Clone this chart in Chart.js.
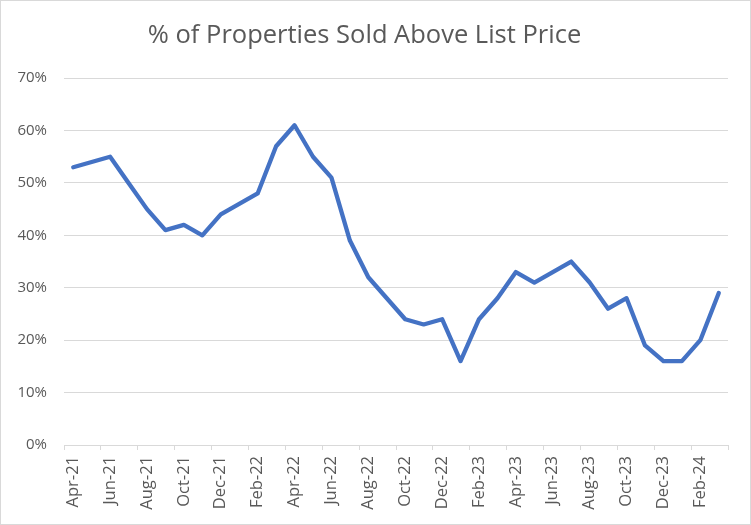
<!DOCTYPE html>
<html>
<head>
<meta charset="utf-8">
<script src="https://cdn.jsdelivr.net/npm/chart.js@4/dist/chart.umd.min.js"></script>
<style>
  html, body { margin: 0; padding: 0; background: #fff; }
  #wrap { width: 751px; height: 525px; box-sizing: border-box; border: 1px solid #d9d9d9; }
</style>
</head>
<body>
<div id="wrap"><canvas id="myChart" width="749" height="523"></canvas></div>
<script>
// monthly labels, Apr-21 .. Mar-24
const months = [
  "Apr-21", "May-21", "Jun-21", "Jul-21", "Aug-21", "Sep-21", "Oct-21", "Nov-21", "Dec-21",
  "Jan-22", "Feb-22", "Mar-22", "Apr-22", "May-22", "Jun-22", "Jul-22", "Aug-22", "Sep-22",
  "Oct-22", "Nov-22", "Dec-22", "Jan-23", "Feb-23", "Mar-23", "Apr-23", "May-23", "Jun-23",
  "Jul-23", "Aug-23", "Sep-23", "Oct-23", "Nov-23", "Dec-23", "Jan-24", "Feb-24", "Mar-24"
];

// % sold above list price
const soldAbove = [
  53, 54, 55, 50, 45, 41, 42, 40, 44,
  46, 48, 57, 61, 55, 51, 39, 32, 28,
  24, 23, 24, 16, 24, 28, 33, 31, 33,
  35, 31, 26, 28, 19, 16, 16, 20, 29
];

const yTicks = [0, 10, 20, 30, 40, 50, 60, 70];

const gridCol = "#d9d9d9";
const textCol = "#595959";
const fontFam = "'Open Sans', sans-serif";

const ctx = document.getElementById("myChart").getContext("2d");
const myChart = new Chart(ctx, {
  type: "line",
  data: {
    labels: months,
    datasets: [{
      data: soldAbove,
      borderColor: "#4472C4",
      borderWidth: 4.3,
      pointRadius: 0,
      tension: 0,
      borderJoinStyle: "round",
      borderCapStyle: "round"
    }]
  },
  options: {
    responsive: false,
    animation: false,
    layout: { padding: { left: 0, right: 22, top: 0, bottom: 0 } },
    plugins: {
      legend: { display: false },
      tooltip: { enabled: false },
      title: {
        display: true,
        text: "% of Properties Sold Above List Price",
        color: textCol,
        font: { family: fontFam, size: 25.5, weight: "normal" },
        padding: { top: 19.5, bottom: 27 }
      }
    },
    scales: {
      x: {
        offset: true,
        grid: {
          offset: true,
          drawOnChartArea: false,
          drawTicks: true,
          tickLength: 5,
          color: c => (c.index === undefined || c.index % 2 === 0) ? gridCol : "transparent"
        },
        border: { display: true, color: gridCol, width: 1 },
        ticks: {
          autoSkip: false,
          maxRotation: 90,
          minRotation: 90,
          padding: 6,
          color: textCol,
          font: { family: fontFam, size: 16.5 },
          callback: function(v, i) { return i % 2 === 0 ? months[i] : ""; }
        },
        afterFit: s => { s.height = 79; }
      },
      y: {
        min: 0,
        max: 70,
        afterBuildTicks: s => { s.ticks = yTicks.map(v => ({ value: v })); },
        grid: { color: gridCol, drawTicks: false, lineWidth: 1 },
        border: { display: false },
        ticks: {
          padding: 17,
          color: textCol,
          font: { family: fontFam, size: 15 },
          callback: v => v + "%"
        },
        afterFit: s => { s.width = 63; }
      }
    }
  }
});
</script>
</body>
</html>
